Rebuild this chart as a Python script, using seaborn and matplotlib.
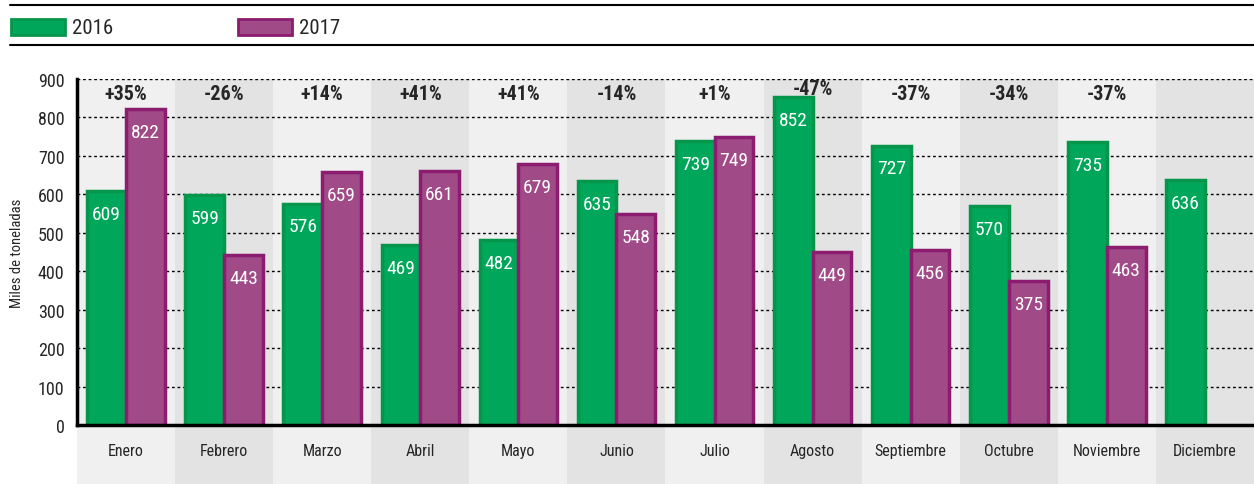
import numpy as np
import pandas as pd
import matplotlib
matplotlib.use("Agg")
import matplotlib.pyplot as plt
import seaborn as sns
from matplotlib.patches import Rectangle
from matplotlib.lines import Line2D

# datos
meses = ['Enero', 'Febrero', 'Marzo', 'Abril', 'Mayo', 'Junio', 'Julio', 'Agosto',
         'Septiembre', 'Octubre', 'Noviembre', 'Diciembre']
v2016 = [609, 599, 576, 469, 482, 635, 739, 852, 727, 570, 735, 636]
v2017 = [822, 443, 659, 661, 679, 548, 749, 449, 456, 375, 463, np.nan]
variacion = ['+35%', '-26%', '+14%', '+41%', '+41%', '-14%', '+1%', '-47%',
             '-37%', '-34%', '-37%', '']

sns.set_style('white')
plt.rcParams['font.family'] = ['Roboto Condensed', 'DejaVu Sans']

verde, verde_borde = '#00a65a', '#05964c'
morado, morado_borde = '#a14a88', '#8b1c6f'

df = pd.DataFrame({'mes': meses * 2,
                   'valor': v2016 + v2017,
                   'anio': ['2016'] * 12 + ['2017'] * 12}).dropna()

fig = plt.figure(figsize=(12.54, 4.85), dpi=100)
ax = fig.add_axes([77 / 1254, 59 / 485, 1 - 77 / 1254, 346 / 485])

# bandas de fondo (bajan hasta el area de etiquetas)
for i in range(12):
    col = '#f0f0f0' if i % 2 == 0 else '#e3e3e3'
    ax.add_patch(Rectangle((i - 0.5, -160), 1, 1060, facecolor=col, edgecolor='none',
                           zorder=0, clip_on=False))

for y in range(100, 1000, 100):
    ax.axhline(y, color='black', linestyle=(0, (2, 2)), linewidth=1, zorder=1)

sns.barplot(data=df, x='mes', y='valor', hue='anio', order=meses, hue_order=['2016', '2017'],
            palette=[verde, morado], width=0.79, saturation=1, ax=ax, legend=False, zorder=2)

for bar in ax.patches:
    if isinstance(bar, Rectangle) and bar.get_height() > 0 and bar.get_zorder() == 2:
        fc = bar.get_facecolor()
        bar.set_edgecolor(verde_borde if fc[1] > 0.5 else morado_borde)
        bar.set_linewidth(2.5)
        h = bar.get_height()
        ax.annotate(f'{h:.0f}', (bar.get_x() + bar.get_width() / 2, h), xytext=(0, -10),
                    textcoords='offset points', ha='center', va='top', color='white',
                    fontsize=14, zorder=3)

for i, p in enumerate(variacion):
    y = 875 if meses[i] == 'Agosto' else 861
    ax.text(i, y, p, ha='center', va='center', fontsize=14.5, fontweight='bold', zorder=3)

ax.set_xlim(-0.5, 11.5)
ax.set_ylim(0, 900)
ax.set_yticks(range(0, 1000, 100))
ax.set_xlabel('')
ax.set_ylabel('Miles de toneladas', fontsize=10.5, labelpad=10)
ax.tick_params(axis='y', length=0, labelsize=13, pad=9)
ax.tick_params(axis='x', length=5, width=2, color='black', labelsize=11.5, pad=8)
ax.xaxis.set_zorder(5)
for s in ['top', 'right']:
    ax.spines[s].set_visible(False)
for s in ['left', 'bottom']:
    ax.spines[s].set_linewidth(2.5)
    ax.spines[s].set_color('black')
    ax.spines[s].set_zorder(4)

# leyenda superior con lineas
fig.add_artist(Line2D([10 / 1254, 1], [1 - 6 / 485] * 2, color='black', linewidth=1.5))
fig.add_artist(Line2D([10 / 1254, 1], [1 - 46 / 485] * 2, color='black', linewidth=1.5))
for x0, fc, ec, lab in [(11, verde, verde_borde, '2016'), (238, morado, morado_borde, '2017')]:
    fig.add_artist(Rectangle((x0 / 1254, 1 - 36 / 485), 54 / 1254, 16 / 485, facecolor=fc,
                             edgecolor=ec, linewidth=2, transform=fig.transFigure))
    fig.text((x0 + 61) / 1254, 1 - 28 / 485, lab, fontsize=15, va='center', ha='left')

fig.savefig('out.png', dpi=100)
